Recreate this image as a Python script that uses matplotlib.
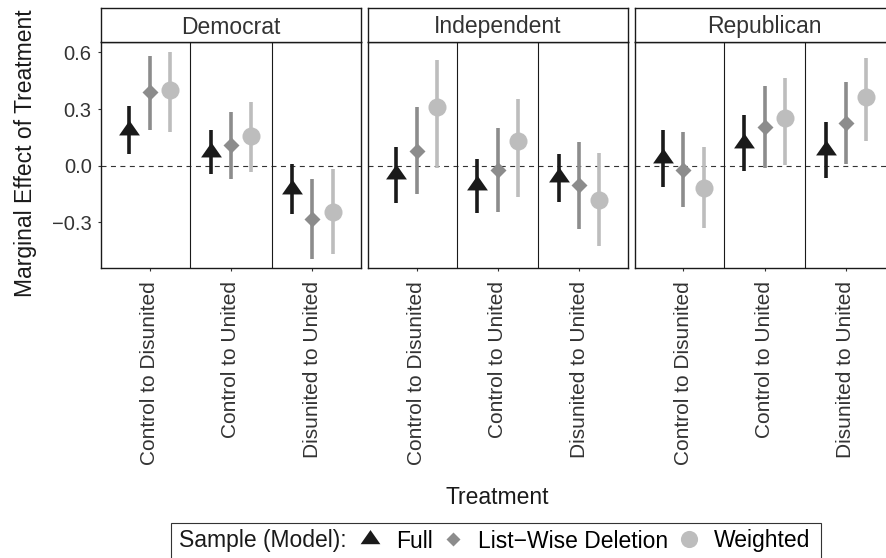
import numpy as np
import matplotlib
matplotlib.use("Agg")
import matplotlib.pyplot as plt
from matplotlib.lines import Line2D
from matplotlib.patches import Rectangle

plt.rcParams['font.family'] = ['Liberation Sans', 'DejaVu Sans']

# facets, x categories and models
parties = ["Democrat", "Independent", "Republican"]
treatments = ["Control to Disunited", "Control to United", "Disunited to United"]
models = ["Full", "List\u2212Wise Deletion", "Weighted"]

# estimates, ordered party x treatment (Dem 3, Ind 3, Rep 3)
full_est = [0.19, 0.07, -0.123, -0.045, -0.105, -0.062, 0.038, 0.122, 0.083]
full_lo = [0.064, -0.046, -0.256, -0.196, -0.251, -0.191, -0.114, -0.029, -0.066]
full_hi = [0.318, 0.188, 0.011, 0.099, 0.035, 0.060, 0.188, 0.270, 0.231]

lwd_est = [0.39, 0.108, -0.284, 0.078, -0.023, -0.104, -0.023, 0.207, 0.228]
lwd_lo = [0.188, -0.069, -0.493, -0.153, -0.244, -0.337, -0.221, -0.013, 0.007]
lwd_hi = [0.583, 0.286, -0.069, 0.310, 0.198, 0.123, 0.176, 0.420, 0.441]

wt_est = [0.40, 0.155, -0.246, 0.31, 0.131, -0.182, -0.120, 0.251, 0.366]
wt_lo = [0.178, -0.034, -0.467, -0.011, -0.168, -0.426, -0.333, 0.005, 0.130]
wt_hi = [0.603, 0.336, -0.020, 0.562, 0.354, 0.067, 0.096, 0.466, 0.571]

ests = [full_est, lwd_est, wt_est]
los = [full_lo, lwd_lo, wt_lo]
his = [full_hi, lwd_hi, wt_hi]

colors = ['#1a1a1a', '#8c8c8c', '#bdbdbd']
tri = [(0, 0.667), (-0.7, -0.333), (0.7, -0.333)]
markers = [tri, 'D', 'o']
msizes = [15, 8, 13]
offsets = [-0.25, 0.0, 0.25]

W, H = 886, 558
fig = plt.figure(figsize=(W / 100, H / 100), dpi=100)

panel_left = [101, 367.8, 634.6]
panel_w = 260
top, bottom, strip_top = 41.5, 268, 8.3

for p, party in enumerate(parties):
    ax = fig.add_axes([panel_left[p] / W, 1 - bottom / H, panel_w / W, (bottom - top) / H])
    ax.set_xlim(-0.6, 2.6)
    ax.set_ylim(-0.543, 0.658)
    ax.axhline(0, color='#333333', lw=0.8, ls=(0, (4.5, 4)), zorder=1)
    for v in (0.5, 1.5):
        ax.axvline(v, color='#1a1a1a', lw=0.8, zorder=1)
    for m in range(3):
        x = np.arange(3) + offsets[m]
        sl = slice(p * 3, p * 3 + 3)
        ax.vlines(x, los[m][sl], his[m][sl], color=colors[m], lw=2.6, zorder=2)
        ax.plot(x, ests[m][sl], ls='none', marker=markers[m], ms=msizes[m],
                color=colors[m], mec='none', zorder=3)
    ax.set_xticks(range(3))
    ax.set_xticklabels(treatments, rotation=90, fontsize=15, color='#333333')
    ax.set_yticks([-0.3, 0.0, 0.3, 0.6])
    if p == 0:
        ax.set_yticklabels([f"{v:.1f}".replace('-', '\u2212') for v in [-0.3, 0.0, 0.3, 0.6]],
                           fontsize=14.5, color='#333333')
        ax.tick_params(axis='y', length=2.2, width=0.8, color='#333333', pad=4.5)
    else:
        ax.set_yticklabels([])
        ax.tick_params(axis='y', length=0)
    ax.tick_params(axis='x', length=2.2, width=0.8, color='#333333', pad=7.5)
    for s in ax.spines.values():
        s.set_linewidth(1.0)
        s.set_color('#1a1a1a')

    sax = fig.add_axes([panel_left[p] / W, 1 - top / H, panel_w / W, (top - strip_top) / H])
    sax.set_xticks([])
    sax.set_yticks([])
    for s in sax.spines.values():
        s.set_linewidth(1.0)
        s.set_color('#1a1a1a')
    fig.text((panel_left[p] + panel_w / 2) / W, 1 - 33.5 / H, party, ha='center',
             va='baseline', fontsize=16.5, color='#333333')

fig.text(26 / W, 1 - 153 / H, "Marginal Effect of Treatment", rotation=90,
         ha='center', va='center', fontsize=16.5, color='#1a1a1a')
fig.text(497.5 / W, 1 - 503.5 / H, "Treatment", ha='center', va='baseline',
         fontsize=16.5, color='#1a1a1a')

# legend
handles = [Line2D([], [], ls='none', marker=markers[m], ms=msizes[m] * 0.95, color=colors[m],
                  mec='none') for m in range(3)]
fig.legend(handles, models, ncol=3, loc='center left', bbox_to_anchor=(359 / W, 1 - 541 / H),
           frameon=False, fontsize=16.5, handlelength=1.0, handletextpad=0.6,
           columnspacing=0.4, borderpad=0, borderaxespad=0)
fig.text(179 / W, 1 - 547.3 / H, "Sample (Model):", ha='left', va='baseline',
         fontsize=16.5, color='#1a1a1a')
fig.add_artist(Rectangle((171 / W, 1 - 562 / H), (821 - 171) / W, 39 / H,
                         transform=fig.transFigure, fill=False, ec='#333333', lw=0.8))

fig.savefig("out.png", dpi=100)
